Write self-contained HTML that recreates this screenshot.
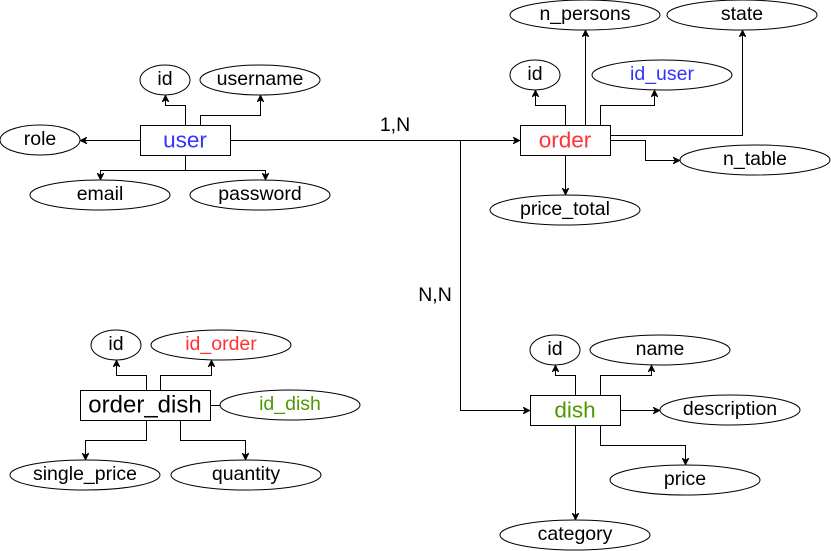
<!DOCTYPE html>
<html><head><meta charset="utf-8"><style>
html,body{margin:0;padding:0;background:#fff;}
svg{display:block;}
text{font-family:"Liberation Sans",Helvetica,Arial,sans-serif;text-anchor:middle;dominant-baseline:central;}
.a{font-size:19.5px;fill:#000;}
.e{font-size:22.5px;}
ellipse,rect{fill:#fff;stroke:#000;stroke-width:1;}
path{fill:none;stroke:#000;stroke-width:1;}
</style></head><body>
<svg width="831" height="551" viewBox="0 0 831 551" xmlns="http://www.w3.org/2000/svg">
<defs><marker id="m" viewBox="0 0 10 10" refX="10" refY="5" markerWidth="7" markerHeight="7" markerUnits="userSpaceOnUse" orient="auto"><path d="M0,0 L10,5 L0,10 L3,5 Z" style="fill:#000;stroke:#000"/></marker></defs>

<g marker-end="url(#m)">
<path d="M185.5,125 V105.5 H165.5 V95"/>
<path d="M200.5,125 V115.5 H260.5 V95"/>
<path d="M140,140.5 H80"/>
<path d="M185.5,155 V170.5 H100.5 V180"/>
<path d="M185.5,170.5 H265.5 V180"/>
<path d="M230,140.5 H520"/>
<path d="M460.5,140.5 V410.5 H530"/>
<path d="M565.5,125 V105.5 H535.5 V90"/>
<path d="M585.5,125 V30"/>
<path d="M600.5,125 V105.5 H654.5 V90"/>
<path d="M611,135.5 H742.5 V30"/>
<path d="M611,140.5 H645.5 V160.5 H680"/>
<path d="M565.5,155 V195"/>
<path d="M146.5,390 V375.5 H116.5 V360"/>
<path d="M160.5,390 V375.5 H211.5 V360"/>
<path d="M146.5,420 V440.5 H85.5 V460"/>
<path d="M180.5,420 V440.5 H245.5 V460"/>
<path d="M575.5,395 V375.5 H555.5 V365"/>
<path d="M600.5,395 V375.5 H651.5 V365"/>
<path d="M620,410.5 H660"/>
<path d="M600.5,425 V445.5 H685.5 V465"/>
<path d="M575.5,425 V520"/>
</g>
<path d="M210,405.5 H220"/>

<rect x="140.5" y="125.5" width="90" height="30"/>
<text x="185" y="140" class="e" fill="#3333ff">user</text>
<ellipse cx="165" cy="80" rx="25" ry="15"/><text x="165" y="79" class="a">id</text>
<ellipse cx="260" cy="80" rx="60" ry="15"/><text x="260" y="79" class="a">username</text>
<ellipse cx="40" cy="140" rx="40" ry="15"/><text x="40" y="139" class="a">role</text>
<ellipse cx="100" cy="195" rx="70" ry="15"/><text x="100" y="194" class="a">email</text>
<ellipse cx="260" cy="195" rx="70" ry="15"/><text x="260" y="194" class="a">password</text>

<text x="395" y="125" class="a">1,N</text>
<text x="435" y="295" class="a">N,N</text>

<rect x="520.5" y="125.5" width="90" height="30"/>
<text x="565" y="140" class="e" fill="#ff3333">order</text>
<ellipse cx="585" cy="15" rx="75" ry="15"/><text x="585" y="14" class="a">n_persons</text>
<ellipse cx="742" cy="15" rx="75" ry="15"/><text x="742" y="14" class="a">state</text>
<ellipse cx="535" cy="75" rx="25" ry="15"/><text x="535" y="74" class="a">id</text>
<ellipse cx="662" cy="75" rx="70" ry="15"/><text x="662" y="74" class="a" style="fill:#3333ff">id_user</text>
<ellipse cx="755" cy="160" rx="75" ry="15"/><text x="755" y="159" class="a">n_table</text>
<ellipse cx="565" cy="210" rx="75" ry="15"/><text x="565" y="209" class="a">price_total</text>

<rect x="80.5" y="390.5" width="130" height="30"/>
<text x="145" y="405" class="e" style="font-size:24px" fill="#000">order_dish</text>
<ellipse cx="116" cy="345" rx="25" ry="15"/><text x="116" y="344" class="a">id</text>
<ellipse cx="221" cy="345" rx="70" ry="15"/><text x="221" y="344" class="a" style="fill:#ff3333">id_order</text>
<ellipse cx="290" cy="405" rx="70" ry="15"/><text x="290" y="404" class="a" style="fill:#4d9900">id_dish</text>
<ellipse cx="85" cy="475" rx="75" ry="15"/><text x="85" y="474" class="a">single_price</text>
<ellipse cx="246" cy="475" rx="75" ry="15"/><text x="246" y="474" class="a">quantity</text>

<rect x="530.5" y="395.5" width="90" height="30"/>
<text x="575" y="410" class="e" fill="#4d9900">dish</text>
<ellipse cx="555" cy="350" rx="25" ry="15"/><text x="555" y="349" class="a">id</text>
<ellipse cx="660" cy="350" rx="70" ry="15"/><text x="660" y="349" class="a">name</text>
<ellipse cx="730" cy="410" rx="70" ry="15"/><text x="730" y="409" class="a">description</text>
<ellipse cx="685" cy="480" rx="75" ry="15"/><text x="685" y="479" class="a">price</text>
<ellipse cx="575" cy="535" rx="75" ry="15"/><text x="575" y="534" class="a">category</text>
</svg>
</body></html>
